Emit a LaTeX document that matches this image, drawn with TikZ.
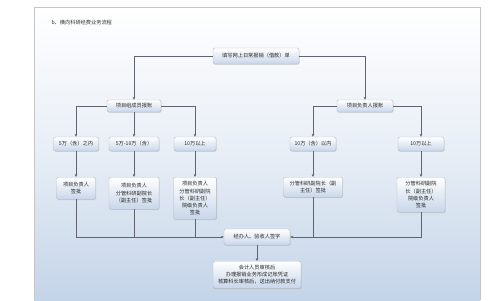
\documentclass[tikz,border=0pt]{standalone}
\usepackage{fontspec}
\setmainfont{Noto Sans CJK SC}
\usetikzlibrary{arrows.meta,shadows}

\definecolor{bgblue}{RGB}{196,212,232}
\definecolor{boxblue}{RGB}{200,214,234}
\definecolor{linegray}{RGB}{95,100,110}

\begin{document}
\begin{tikzpicture}[>={Stealth[length=3pt,width=2.6pt]},x=1pt,y=-1pt,
 font=\fontsize{5.2pt}{7.2pt}\selectfont,
 box/.style={draw=gray!55,rounded corners=2pt,align=center,inner sep=1.5pt,
   top color=white,bottom color=boxblue,text=black!85,
   drop shadow={opacity=0.25,shadow xshift=0.6pt,shadow yshift=-0.8pt}},
 link/.style={draw=linegray,line width=0.7pt}]
% background
\useasboundingbox (0,0) rectangle (500,300);
\shade[top color=white,bottom color=bgblue,middle color=white!60!bgblue] (34,7) rectangle (480,300);
\draw[gray!45,line width=0.5pt] (34,300) -- (34,7) -- (480,7) -- (480,300);
\node[anchor=west,font=\fontsize{5.2pt}{6pt}\selectfont,text=black!80] (title) at (48,23) {b、横向科研经费业务流程};
% nodes
\node[box,minimum width=86pt,minimum height=16pt] (top) at (256,56) {填写网上日常报销（借款）单};
\node[box,minimum width=54pt,minimum height=12pt] (lm) at (134,106) {项目组成员报账};
\node[box,minimum width=56pt,minimum height=12pt] (rm) at (365,106) {项目负责人报账};
\node[box,minimum width=45pt,minimum height=14pt] (a1) at (76,144) {5万（含）之内};
\node[box,minimum width=50pt,minimum height=14pt] (a2) at (134,144) {5万-10万（含）};
\node[box,minimum width=42pt,minimum height=14pt] (a3) at (195,144) {10万以上};
\node[box,minimum width=46pt,minimum height=14pt] (b1) at (313,144) {10万（含）以内};
\node[box,minimum width=46pt,minimum height=14pt] (b2) at (421,144) {10万以上};
\node[box,anchor=north,minimum width=39pt,minimum height=22pt] (c1) at (76,177) {项目负责人\\签批};
\node[box,anchor=north,minimum width=50pt,minimum height=32pt] (c2) at (134,177) {项目负责人\\分管科研副院长\\（副主任）签批};
\node[box,anchor=north,minimum width=43pt,minimum height=42pt] (c3) at (195,177) {项目负责人\\分管科研副院\\长（副主任）\\院级负责人\\签批};
\node[box,anchor=north,minimum width=59pt,minimum height=20pt] (d1) at (313,177) {分管科研副院长（副\\主任）签批};
\node[box,anchor=north,minimum width=48pt,minimum height=35pt] (d2) at (421,177) {分管科研副院\\长（副主任）\\院级负责人\\签批};
\node[box,minimum width=66pt,minimum height=16pt] (sig) at (257,237) {经办人、验收人签字};
\node[box,anchor=north,minimum width=88pt,minimum height=27pt] (acc) at (257,261) {会计人员审核后\\办理报销业务形成记账凭证\\核算科长审核后，送出纳付款支付};
% connectors
\draw[link,->] (top.west) -| (lm.north);
\draw[link,->] (top.east) -| (rm.north);
\draw[link,->] (lm.west) -| (a1.north);
\draw[link,->] (lm) -- (a2);
\draw[link,->] (lm.east) -| (a3.north);
\draw[link,->] (rm.west) -| (b1.north);
\draw[link,->] (rm.east) -| (b2.north);
\draw[link,->] (a1) -- (c1);
\draw[link,->] (a2) -- (c2);
\draw[link,->] (a3) -- (c3);
\draw[link,->] (b1) -- (d1);
\draw[link,->] (b2) -- (d2);
\draw[link,->] (c1.south) |- (sig.west);
\draw[link] (c2.south) -- (c2.south |- sig.west);
\draw[link] (c3.south) -- (c3.south |- sig.west);
\draw[link,->] (d2.south) |- (sig.east);
\draw[link] (d1.south) -- (d1.south |- sig.east);
\draw[link,->] (sig) -- (acc);
\end{tikzpicture}
\end{document}
